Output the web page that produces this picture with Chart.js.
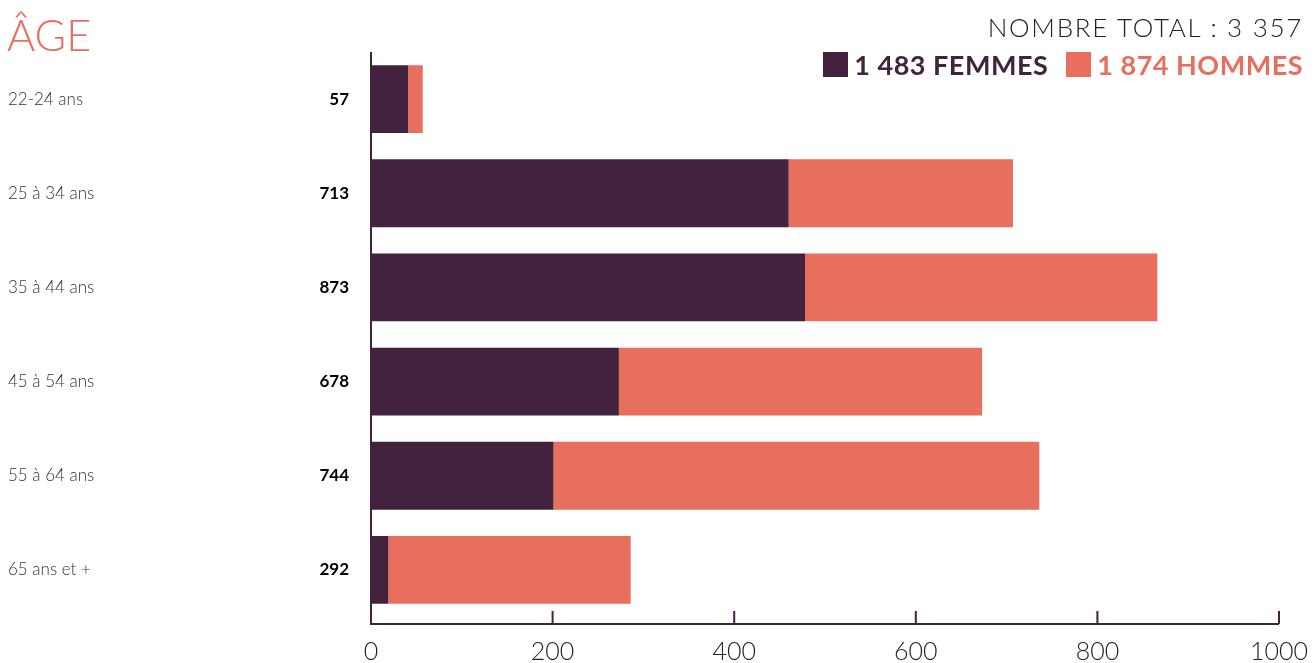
<!DOCTYPE html>
<html lang="fr">
<head>
<meta charset="utf-8">
<title>Âge</title>
<script src="https://cdn.jsdelivr.net/npm/chart.js@4/dist/chart.umd.min.js"></script>
<style>
  html, body { margin: 0; padding: 0; background: #fff; overflow: hidden; }
  body { width: 1314px; height: 663px; position: relative; font-family: Lato, 'Noto Sans', sans-serif; }
  #wrap { position: absolute; left: 0; top: 0; width: 1314px; height: 687px; }
  .title { position: absolute; left: 7px; top: 13px; font-size: 43px; font-weight: 300; color: #e86e5e; line-height: 1; }
  .total { position: absolute; right: 11px; top: 14px; font-size: 26px; font-weight: 300; color: #222; line-height: 1; letter-spacing: 1.7px; }
  .legend { position: absolute; right: 11px; top: 52px; display: flex; align-items: center; font-weight: 700; font-size: 27px; letter-spacing: 0.5px; line-height: 25px; }
  .legend .sw { width: 25px; height: 25px; display: inline-block; margin-right: 6px; }
  .legend .item { display: flex; align-items: center; }
  .legend .item + .item { margin-left: 18px; }
</style>
</head>
<body>
<div id="wrap"><canvas id="ageChart"></canvas></div>
<div class="title">ÂGE</div>
<div class="total">NOMBRE TOTAL : 3 357</div>
<div class="legend">
  <span class="item" style="color:#43223d"><span class="sw" style="background:#43223d"></span>1 483 FEMMES</span>
  <span class="item" style="color:#e86e5e"><span class="sw" style="background:#e86e5e"></span>1 874 HOMMES</span>
</div>
<script>
/* ---------- data ---------- */
const ageGroups = ['22-24 ans', '25 à 34 ans', '35 à 44 ans', '45 à 54 ans', '55 à 64 ans', '65 ans et +'];
const totals    = ['57', '713', '873', '678', '744', '292'];
const femmes    = [41, 460, 478, 273, 201, 19];
const hommes    = [16, 247, 388, 400, 535, 267];
const xTicks    = [0, 200, 400, 600, 800, 1000];

const DARK  = '#43223d';
const CORAL = '#e86e5e';

/* axis lines, inner ticks and the left-hand labels */
const sideLabels = {
  id: 'sideLabels',
  afterDraw(chart) {
    const { ctx, chartArea, scales: { x, y } } = chart;
    const base = chartArea.bottom + 6;
    ctx.save();
    ctx.strokeStyle = DARK;
    ctx.lineWidth = 2;
    ctx.beginPath();
    ctx.moveTo(x.getPixelForValue(0), chartArea.top);
    ctx.lineTo(x.getPixelForValue(0), base + 1);
    ctx.lineTo(x.getPixelForValue(1000), base + 1);
    xTicks.forEach(v => {
      const px = x.getPixelForValue(v);
      ctx.moveTo(px, base + 1);
      ctx.lineTo(px, base - 12);
    });
    ctx.stroke();

    ctx.textBaseline = 'middle';
    ageGroups.forEach((label, i) => {
      const py = y.getPixelForValue(i);
      ctx.font = '300 17px Lato, sans-serif';
      ctx.fillStyle = '#333';
      ctx.textAlign = 'left';
      ctx.fillText(label, 8, py);
      ctx.font = '700 17px Lato, sans-serif';
      ctx.fillStyle = '#000';
      ctx.textAlign = 'right';
      ctx.fillText(totals[i], 349, py);
    });
    ctx.restore();
  }
};

new Chart(document.getElementById('ageChart'), {
  type: 'bar',
  data: {
    labels: ageGroups,
    datasets: [
      { label: 'Femmes', data: femmes, backgroundColor: DARK },
      { label: 'Hommes', data: hommes, backgroundColor: CORAL },
    ],
  },
  options: {
    indexAxis: 'y',
    responsive: true,
    maintainAspectRatio: false,
    animation: false,
    barPercentage: 0.72,
    categoryPercentage: 1,
    layout: { padding: { left: 371, right: 35, top: 52, bottom: 0 } },
    plugins: {
      legend: { display: false },
      tooltip: { enabled: false },
    },
    scales: {
      x: {
        stacked: true,
        min: 0,
        max: 1000,
        afterBuildTicks: axis => { axis.ticks = xTicks.map(v => ({ value: v })); },
        afterFit: axis => { axis.paddingLeft = 0; axis.paddingRight = 0; },
        grid: { display: false, drawTicks: false },
        border: { display: false },
        ticks: {
          color: '#222',
          padding: 20,
          font: { family: 'Lato', size: 25, weight: '300' },
          callback: v => String(v),
        },
      },
      y: {
        stacked: true,
        display: false,
      },
    },
  },
  plugins: [sideLabels],
});
</script>
</body>
</html>
